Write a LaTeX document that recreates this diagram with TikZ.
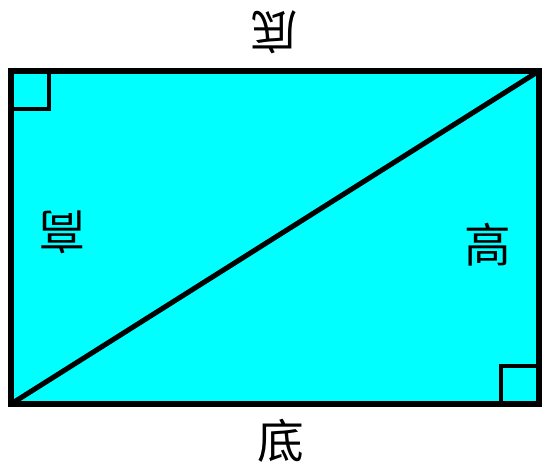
\documentclass[tikz,border=0pt]{standalone}
\usepackage{fontspec}
\newfontfamily\cjk{Noto Sans CJK SC}
\usetikzlibrary{positioning,calc}
\definecolor{aqua}{RGB}{0,255,255}

\begin{document}
\begin{tikzpicture}[
    x=0.75pt, y=-0.75pt,
    edge/.style={draw=black, line width=3.8pt},
    rightangle/.style={draw=black, line width=3.6pt},
    lbl/.style={font=\cjk\fontsize{35}{35}\selectfont, inner sep=0pt},
]
\useasboundingbox (0,0) rectangle (544,464);

% Corners of the rectangle
\coordinate (tl) at (11,71);
\coordinate (tr) at (539,71);
\coordinate (br) at (539,404);
\coordinate (bl) at (11,404);

% Filled rectangle
\fill[aqua] (tl) rectangle (br);

% Right-angle marks
\draw[rightangle] (tl) rectangle ++(38,38);
\draw[rightangle] (br) rectangle ++(-38,-38);

% Border and diagonal
\draw[edge, line join=miter] (tl) -- (tr) -- (br) -- (bl) -- cycle;
\draw[edge] (bl) -- (tr);

% Labels
\node[lbl] (base) at (281,441) {底};
\node[lbl, rotate=180] (base2) at (274,32) {底};
\node[lbl] (height) at (488,245) {高};
\node[lbl, rotate=180] (height2) at (62,232) {高};

\end{tikzpicture}
\end{document}
